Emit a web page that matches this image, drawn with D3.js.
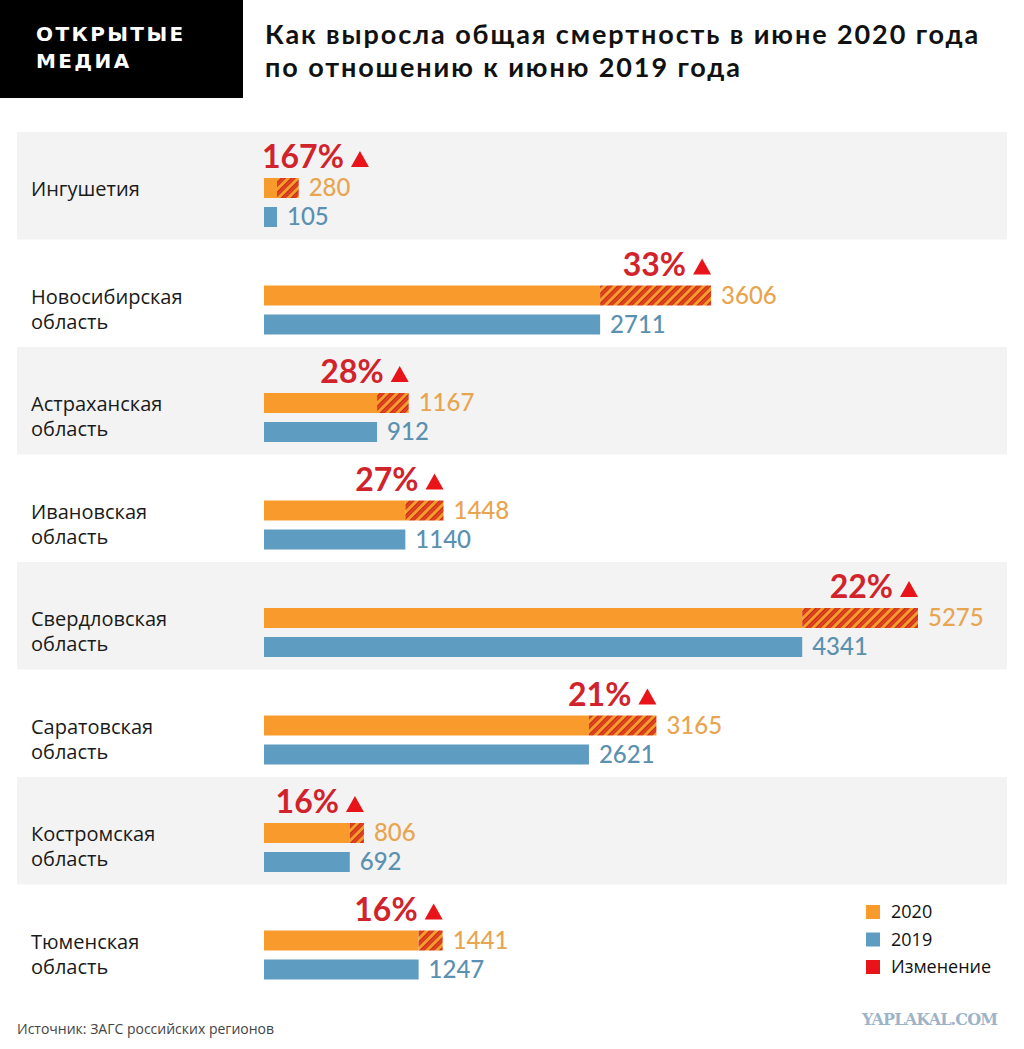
<!DOCTYPE html>
<html>
<head>
<meta charset="utf-8">
<script src="https://cdn.jsdelivr.net/npm/d3@7"></script>
<style>
  body { margin: 0; background: #fff; }
  svg { display: block; }
</style>
</head>
<body>
<div id="chart"></div>
<script>
var w = 1024,
    h = 1049;

// data
var regions = ["Ингушетия", "Новосибирская область", "Астраханская область", "Ивановская область",
               "Свердловская область", "Саратовская область", "Костромская область", "Тюменская область"];
var v2020 = [280, 3606, 1167, 1448, 5275, 3165, 806, 1441];
var v2019 = [105, 2711, 912, 1140, 4341, 2621, 692, 1247];
var changes = ["167%", "33%", "28%", "27%", "22%", "21%", "16%", "16%"];
var legendItems = ["2020", "2019", "Изменение"];

var orange = "#f99b2c",
    blue = "#5e9dc1",
    red = "#e8141a";

var svg = d3.select("#chart").append("svg")
  .attr("width", w)
  .attr("height", h);

var defs = svg.append("defs");
var pat = defs.append("pattern")
  .attr("id", "hatch")
  .attr("patternUnits", "userSpaceOnUse")
  .attr("width", 7)
  .attr("height", 7)
  .attr("patternTransform", "rotate(45)");
pat.append("rect").attr("width", 7).attr("height", 7).attr("fill", orange);
pat.append("rect").attr("x", 0).attr("width", 3.8).attr("height", 7).attr("fill", "#b0241a");
pat.append("rect").attr("x", 0.8).attr("width", 2.2).attr("height", 7).attr("fill", "#e6401e");

// header
svg.append("rect").attr("x", 0).attr("y", 0).attr("width", 243).attr("height", 98).attr("fill", "#000");
svg.append("text")
  .attr("x", 36).attr("y", 41)
  .attr("fill", "#fff")
  .style("font", "bold 20px 'DejaVu Sans'")
  .style("letter-spacing", "2.4px")
  .text("ОТКРЫТЫЕ");
svg.append("text")
  .attr("x", 36).attr("y", 68)
  .attr("fill", "#fff")
  .style("font", "bold 20px 'DejaVu Sans'")
  .style("letter-spacing", "2.4px")
  .text("МЕДИА");

var title = svg.append("text")
  .attr("x", 265)
  .attr("fill", "#111")
  .style("font", "bold 27px Lato")
  .style("letter-spacing", "1.9px");
title.append("tspan").attr("x", 265).attr("y", 44).text("Как выросла общая смертность в июне 2020 года");
title.append("tspan").attr("x", 265).attr("y", 77).text("по отношению к июню 2019 года");

// scales
var y = d3.scaleBand()
  .domain(d3.range(regions.length))
  .range([132, 992])
  .padding(0);

var x = d3.scaleLinear()
  .domain([0, d3.max(v2020)])
  .range([264, 918]);

var rows = svg.selectAll(".row")
  .data(regions)
  .enter().append("g")
  .attr("class", "row")
  .attr("transform", function(d, i) { return "translate(0," + y(i) + ")"; });

rows.append("rect")
  .attr("x", 17)
  .attr("width", 990)
  .attr("height", y.bandwidth())
  .attr("fill", function(d, i) { return i % 2 === 0 ? "#f3f3f3" : "none"; });

rows.each(function(d, i) {
  var g = d3.select(this);
  var lines = d.split(" ");
  var t = g.append("text")
    .attr("fill", "#1a1a1a")
    .style("font", "20px 'Open Sans'");
  lines.forEach(function(l, k) {
    t.append("tspan").attr("x", 31).attr("y", 64 + k * 25).text(l);
  });

  // 2020 bar: 2019 part + hatched increase
  g.append("rect")
    .attr("x", x(0)).attr("y", 46)
    .attr("width", x(v2019[i]) - x(0)).attr("height", 20)
    .attr("fill", orange);
  g.append("rect")
    .attr("x", x(v2019[i])).attr("y", 46)
    .attr("width", x(v2020[i]) - x(v2019[i])).attr("height", 20)
    .attr("fill", "url(#hatch)");

  g.append("rect")
    .attr("x", x(0)).attr("y", 75)
    .attr("width", x(v2019[i]) - x(0)).attr("height", 20)
    .attr("fill", blue);

  g.append("text")
    .attr("x", x(v2020[i]) + 10).attr("y", 64)
    .attr("fill", "#e8a550")
    .style("font", "500 24px Lato")
    .text(v2020[i]);
  g.append("text")
    .attr("x", x(v2019[i]) + 10).attr("y", 93)
    .attr("fill", "#5a90b0")
    .style("font", "500 24px Lato")
    .text(v2019[i]);

  // change label + triangle, right-aligned to end of 2020 bar
  var pg = g.append("g");
  var pt = pg.append("text")
    .attr("x", 0).attr("y", 36)
    .attr("fill", "#d1232b")
    .style("font", "bold 32px Lato")
    .text(changes[i]);
  var tw = pt.node().getComputedTextLength();
  pg.append("path")
    .attr("d", "M" + (tw + 7) + ",35 L" + (tw + 25) + ",35 L" + (tw + 16) + ",19 Z")
    .attr("fill", red);
  var gw = tw + 25;
  var left = Math.max(x(0) - 2, x(v2020[i]) - gw);
  pg.attr("transform", "translate(" + left + ",0)");
});

// legend
var leg = svg.selectAll(".leg")
  .data(legendItems)
  .enter().append("g")
  .attr("transform", function(d, i) { return "translate(866," + (905 + i * 27.5) + ")"; });
leg.append("rect")
  .attr("width", 14).attr("height", 14)
  .attr("fill", function(d, i) { return [orange, blue, red][i]; });
leg.append("text")
  .attr("x", 25).attr("y", 13)
  .attr("fill", "#111")
  .style("font", "18px 'Open Sans'")
  .text(function(d) { return d; });

// footer
svg.append("text")
  .attr("x", 17).attr("y", 1034)
  .attr("fill", "#444")
  .style("font", "14px 'Open Sans'")
  .text("Источник: ЗАГС российских регионов");

svg.append("text")
  .attr("x", 862).attr("y", 1025)
  .attr("fill", "#9db4c8")
  .attr("textLength", 136)
  .style("font", "bold 16px 'DejaVu Serif'")
  .text("YAPLAKAL.COM");
</script>
</body>
</html>
